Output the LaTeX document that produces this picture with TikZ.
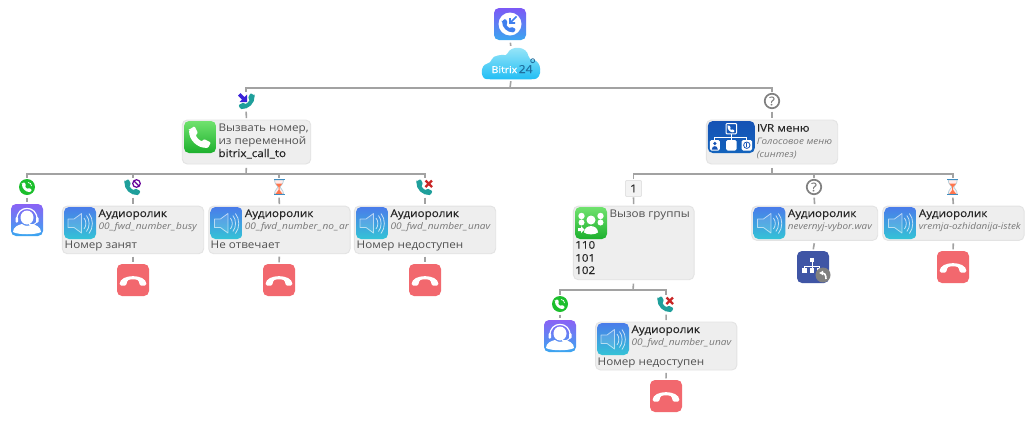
\documentclass[tikz,border=0pt]{standalone}
\usepackage{fontspec}
\setmainfont{Open Sans}[FakeStretch=1.1]
\newfontfamily\titlefont{Open Sans}[FakeStretch=1.1,FakeBold=0.25]
\usetikzlibrary{calc, arrows.meta}

\definecolor{wiregray}{HTML}{A2A2A2}
\definecolor{panelfill}{HTML}{EEEEEE}
\definecolor{paneledge}{HTML}{E3E3E3}
\definecolor{bodytext}{HTML}{505050}
\definecolor{subtext}{HTML}{777777}
\definecolor{hangred}{HTML}{F2686E}
\definecolor{teal}{HTML}{1F9F9B}
\definecolor{okgreen}{HTML}{1CBF2C}
\definecolor{speakertop}{HTML}{4A7CEA}
\definecolor{speakerlow}{HTML}{34C3D6}
\definecolor{avatartop}{HTML}{8A62F5}
\definecolor{avatarlow}{HTML}{3BA6F0}
\definecolor{greentop}{HTML}{70E26E}
\definecolor{greenlow}{HTML}{1DB02E}
\definecolor{ivrblue}{HTML}{1552B5}
\definecolor{backblue}{HTML}{3F55A5}
\definecolor{rootblue}{HTML}{3F7FEE}
\definecolor{cloudtop}{HTML}{A0E8F8}
\definecolor{cloudlow}{HTML}{22BEF5}
\definecolor{cloudnavy}{HTML}{1F6E9E}
\definecolor{arrowblue}{HTML}{3A22D8}

\tikzset{
  stub/.style={draw=wiregray, line width=1.6pt, shorten <=2.5pt, shorten >=1.5pt},
  busstub/.style={draw=wiregray, line width=1.6pt, shorten <=3.5pt},
  bar/.style={draw=wiregray, line width=1.7pt, shorten >=1pt},
  panel/.style={rectangle, draw=paneledge, line width=0.9pt, fill=panelfill, rounded corners=5pt, inner sep=0pt},
  iconbox/.style={rectangle, rounded corners=5pt, minimum size=32pt, inner sep=0pt},
  speakerbg/.style={iconbox, top color=speakertop, bottom color=speakerlow},
  hangbg/.style={iconbox, fill=hangred},
  avatarbg/.style={iconbox, top color=avatartop, bottom color=avatarlow},
  greenbg/.style={iconbox, top color=greentop, bottom color=greenlow},
  small/.style={rectangle, minimum size=16pt, inner sep=0pt},
  okdot/.style={circle, fill=okgreen, minimum size=16pt, inner sep=0pt},
  qmark/.style={circle, draw=gray, line width=1.7pt, minimum size=14.5pt, inner sep=0pt, text=gray, font=\titlefont\fontsize{12}{12}\selectfont},
  numbox/.style={rectangle, draw=paneledge, fill=panelfill!70!white, line width=0.9pt, rounded corners=1pt, minimum size=16pt, inner sep=0pt, text=black!80, font=\titlefont\fontsize{11}{11}\selectfont},
  bodytxt/.style={anchor=base west, inner sep=0pt, text=bodytext, font=\fontsize{10.6}{12}\selectfont},
  darktxt/.style={anchor=base west, inner sep=0pt, text=black!85, font=\titlefont\fontsize{10.6}{12}\selectfont},
  subtxt/.style={anchor=base west, inner sep=0pt, text=subtext, font=\itshape\fontsize{9}{11}\selectfont},
  pics/handset/.style={code={
    \fill[#1, rounded corners=1pt] (-8,-5.5) -- (-4,-8) -- (-1.5,-3) -- (-3.2,-1.5)
      .. controls (-2.5,0.5) and (-0.5,2.5) .. (1.5,3.2) -- (3,1.5) -- (8,4) -- (6,8)
      .. controls (-2,8.5) and (-8.5,2) .. cycle;
  }},
  pics/hangup/.style={code={
    \fill[white, rounded corners=1.5pt] (-13.5,5.5) .. controls (-13,-6.5) and (13,-6.5) .. (13.5,5.5)
      -- (6.5,5.5) -- (6,0.5) .. controls (2,-1) and (-2,-1) .. (-6,0.5) -- (-6.5,5.5) -- cycle;
  }},
  pics/speaker/.style={code={
    \draw[white, opacity=0.6, line width=0.8pt, fill=white, fill opacity=0.12, line join=round]
      (-12,-4) -- (-6,-4) -- (1.5,-9.5) -- (1.5,10) -- (-6,4.5) -- (-12,4.5) -- cycle;
    \draw[white, opacity=0.7, line width=0.8pt] (4,-5) .. controls (6.5,-2) and (6.5,3) .. (4,6);
    \draw[white, opacity=0.7, line width=0.8pt] (6.5,-7.5) .. controls (10,-3) and (10,4) .. (6.5,8.5);
    \draw[white, opacity=0.7, line width=0.8pt] (9,-9.5) .. controls (13.5,-4) and (13.5,5) .. (9,10.5);
  }},
  pics/avatar/.style={code={
    \fill[white] (-14,12) .. controls (-14,7) and (-9,5) .. (-5,4) .. controls (-2,6.5) and (2,6.5) .. (5,4)
      .. controls (9,5) and (14,7) .. (14,12) .. controls (9,15) and (-9,15) .. (-14,12) -- cycle;
    \fill[white] (0,-2.5) ellipse (6.5 and 7);
    \draw[white, line width=1.2pt] (-10,0) .. controls (-11,-15.5) and (11,-15.5) .. (10,0);
    \fill[white, rounded corners=1pt] (-11.5,-3) rectangle (-9,2.5);
    \fill[white, rounded corners=1pt] (11.5,-3) rectangle (9,2.5);
    \draw[white, line width=0.9pt] (10,2) .. controls (9,5) and (6,4.5) .. (2,4.5);
  }},
  pics/hourglass/.style={code={
    \draw[cyan!40!gray!50, line width=0.7pt, fill=red!8] (-4.5,-7) .. controls (-4.5,-2.5) and (-1,-1.5) .. (-1,0)
      .. controls (-1,1.5) and (-4.5,2.5) .. (-4.5,7) -- (4.5,7) .. controls (4.5,2.5) and (1,1.5) .. (1,0)
      .. controls (1,-1.5) and (4.5,-2.5) .. (4.5,-7) -- cycle;
    \fill[red!55!orange!70] (-3.5,-3.5) -- (3.5,-3.5) -- (0.5,0) -- (0.5,3) -- (3.5,7) -- (-3.5,7) -- (-0.5,3) -- (-0.5,0) -- cycle;
    \fill[blue!40!cyan!50!gray] (-5.5,-8) rectangle (5.5,-6.6);
    \fill[blue!40!cyan!50!gray] (-5.5,6.6) rectangle (5.5,8);
  }},
  pics/treemark/.style={code={
    \draw[white, line width=1pt] (0,-5) -- (0,0) (-9,4) -- (-9,0) -- (9,0) -- (9,4) (0,0) -- (0,4);
    \fill[white] (-2.5,-10) rectangle (2.5,-5);
    \fill[white] (-12,3) rectangle (-6.5,8.5);
    \fill[white] (-2.5,3) rectangle (2.5,8.5);
    \fill[white] (6.5,3) rectangle (12,8.5);
  }},
  pics/ivrmark/.style={code={
    \draw[white, line width=1pt, rounded corners=1pt] (-5.3,-13.5) rectangle (5.3,-3.2);
    \pic[scale=0.45] at (0,-8.3) {handset=white};
    \draw[white, line width=1pt] (0,-3.2) -- (0,3) (-16.5,3) -- (-16.5,0.7) -- (15.5,0.7) -- (15.5,3);
    \fill[white, rounded corners=1.5pt] (-21.5,3) rectangle (-11.5,13.5);
    \fill[white, rounded corners=1.5pt] (-5.3,3) rectangle (5.3,13.5);
    \fill[white, rounded corners=1.5pt] (10.3,3) rectangle (20.7,13.5);
    \fill[ivrblue] (-16.5,6.5) circle (1.8) (-19.5,12.5) .. controls (-19.5,8) and (-13.5,8) .. (-13.5,12.5) -- cycle;
    \draw[ivrblue, line width=0.8pt] (15.5,8.2) circle (3.2);
    \fill[ivrblue] (15,6.3) rectangle (16,10.2);
  }},
}

\newcommand{\us}{\kern0.5pt\_\kern0.5pt}
\newcommand{\fwdname}[1]{{\fontsize{9.2}{11}\selectfont 00\us fwd\us number\us #1}}
\newcommand{\audiohead}[4]{%
  \begin{scope}[shift={(#2,#3)}]
    \node[speakerbg] (#1icon) at (17.7,17) {};
    \pic at (#1icon) {speaker};
    \node[darktxt] (#1title) at (36,11) {Аудиоролик};
    \node[subtxt] (#1sub) at (36,23.7) {#4};
  \end{scope}}

\begin{document}
\begin{tikzpicture}[x=1pt, y=-1pt]
  \path[use as bounding box, fill=white] (0,0) rectangle (1034,424);

  % Entry icon and cloud
  \node[iconbox, top color=avatartop!90!blue, bottom color=avatarlow] (entry) at (510,24) {};
  \fill[white] (entry) circle (11.5);
  \pic[scale=0.85] at (509,25.5) {handset=rootblue};
  \draw[rootblue, line width=1.7pt] (516.5,16.5) -- (510,23) (510,18) -- (510,23) -- (515,23);
  \node[rectangle, minimum width=57pt, minimum height=32pt, inner sep=0pt] (cloud) at (511,63.5) {};
  \shade[top color=cloudtop, bottom color=cloudlow, rounded corners=4pt]
    (491,79.3) .. controls (480,79) and (480,65) .. (491,63) .. controls (493,55) and (503,55) .. (506,57)
    .. controls (511,45) and (527,46) .. (529,60) .. controls (542,60) and (543,79) .. (530,79.3) -- cycle;
  \node[inner sep=0pt, anchor=base west, text=white, font=\titlefont\fontsize{9.5}{10}\selectfont] (cloudname) at (491.5,73) {Bitrix};
  \node[inner sep=0pt, anchor=base west, text=cloudnavy, font=\titlefont\fontsize{11}{10}\selectfont] (cloudnum) at (518.5,73) {24};
  \draw[cloudnavy, line width=0.8pt] (532.7,60.7) circle (2);

  \coordinate (rootbus) at (510,88);
  \draw[stub] (entry.south) -- (cloud.north);
  \draw[busstub, shorten <=1.5pt] (cloud.south) -- (rootbus);

  % Left branch icon
  \node[small] (callin) at (246,101) {};
  \pic[xscale=-1] at (246.5,101) {handset=teal};
  \fill[arrowblue] (238,95.5) -- (240.5,93) -- (244.5,97) -- (247,94.5) -- (247,102) -- (239.5,102) -- (242,99.5) -- cycle;
  \node[qmark] (other) at (772,101) {?};
  \draw[bar] (rootbus) -| (callin.north);
  \draw[bar] (rootbus) -| (other.north);

  % Call box
  \node[panel, minimum width=128.5pt, minimum height=44pt] (callbox) at (246.5,142) {};
  \node[greenbg] (callicon) at (200,137) {};
  \pic[scale=1.35] at (callicon) {handset=white};
  \node[bodytxt] (callline1) at (218.3,131.7) {Вызвать номер,};
  \node[bodytxt] (callline2) at (218.3,144.3) {из переменной};
  \node[darktxt] (callline3) at (218.3,157) {bitrix\_call\_to};
  \draw[stub] (callin.south) -- (callbox.north);

  \coordinate (callbus) at (246,174);
  \draw[busstub] (callbox.south) -- (callbus);

  % Outcomes of the call
  \node[okdot] (okleft) at (27,187) {};
  \pic[scale=0.62] at (okleft) {handset=white};
  \draw[white, line width=0.7pt] (28,182.5) .. controls (30,182.5) and (31.5,184) .. (31.5,186);
  \node[small] (busy) at (133,187) {};
  \pic at (132.5,187) {handset=teal};
  \draw[violet!80!blue, line width=1.2pt, fill=white] (136.5,183.5) circle (3.8);
  \draw[violet!80!blue, line width=1.2pt] (134,181) -- (139,186);
  \node[small] (noanswer) at (279,187) {};
  \pic at (noanswer) {hourglass};
  \node[small] (fail) at (425,187) {};
  \pic at (424.5,187) {handset=teal};
  \draw[red!75!black!85, line width=2.2pt] (425.5,180.5) -- (432,187) (432,180.5) -- (425.5,187);
  \draw[bar] (callbus) -| (okleft.north);
  \draw[bar] (callbus) -| (busy.north);
  \draw[bar] (callbus) -| (noanswer.north);
  \draw[bar] (callbus) -| (fail.north);

  % Operator
  \node[avatarbg] (agentleft) at (27,220) {};
  \pic at (agentleft) {avatar};
  \draw[stub] (okleft.south) -- (agentleft.north);

  % Busy
  \node[panel, minimum width=141.4pt, minimum height=47.7pt] (busybox) at (133,229.9) {};
  \audiohead{busy}{62.3}{206}{\fwdname{busy}}
  \node[bodytxt] (busynote) at (64.5,248.7) {Номер занят};
  \node[hangbg] (hangbusy) at (133,280) {};
  \pic at (hangbusy) {hangup};
  \draw[stub] (busy.south) -- (busybox.north);
  \draw[stub] (busybox.south) -- (hangbusy.north);

  % No answer
  \node[panel, minimum width=141.4pt, minimum height=47.7pt] (noansbox) at (279.4,229.9) {};
  \audiohead{noans}{208.7}{206}{\fwdname{no\us ar}}
  \node[bodytxt] (noansnote) at (210.5,248.7) {Не отвечает};
  \node[hangbg] (hangnoans) at (279,280) {};
  \pic at (hangnoans) {hangup};
  \draw[stub] (noanswer.south) -- (noansbox.north);
  \draw[stub] (noansbox.south) -- (hangnoans.north);

  % Unavailable
  \node[panel, minimum width=141.4pt, minimum height=47.7pt] (failbox) at (425,229.9) {};
  \audiohead{fail}{354.3}{206}{\fwdname{unav}}
  \node[bodytxt] (failnote) at (356.5,248.7) {Номер недоступен};
  \node[hangbg] (hangfail) at (425,280) {};
  \pic at (hangfail) {hangup};
  \draw[stub] (fail.south) -- (failbox.north);
  \draw[stub] (failbox.south) -- (hangfail.north);

  % IVR box
  \node[panel, minimum width=131.4pt, minimum height=44pt] (ivrbox) at (772,142) {};
  \node[iconbox, minimum width=47pt, top color=ivrblue, bottom color=ivrblue!90!cyan] (ivricon) at (731.3,137) {};
  \pic at (ivricon) {ivrmark};
  \node[darktxt] (ivrtitle) at (756.7,131.7) {IVR меню};
  \node[subtxt] (ivrline1) at (756.7,144.3) {Голосовое меню};
  \node[subtxt] (ivrline2) at (756.7,157) {(синтез)};
  \draw[stub] (other.south) -- (ivrbox.north);

  \coordinate (ivrbus) at (772,174);
  \draw[busstub] (ivrbox.south) -- (ivrbus);

  % Outcomes of the menu
  \node[numbox] (digit) at (633.5,188.5) {1};
  \node[qmark] (wrong) at (814,187) {?};
  \node[small] (expired) at (952.7,187) {};
  \pic at (expired) {hourglass};
  \draw[bar] (ivrbus) -| (digit.north);
  \draw[bar] (ivrbus) -| (wrong.north);
  \draw[bar] (ivrbus) -| (expired.north);

  % Group call
  \node[panel, minimum width=120.7pt, minimum height=73.7pt] (groupbox) at (633.7,242.9) {};
  \node[greenbg] (groupicon) at (591,223) {};
  \fill[white] (591,220) circle (4.5) (581.5,216) circle (3.2) (600.5,216) circle (3.2) (581.5,222.5) circle (3) (600.5,222.5) circle (3);
  \fill[white] (584,232.5) .. controls (584,224) and (598,224) .. (598,232.5) .. controls (595,235) and (587,235) .. (584,232.5) -- cycle;
  \fill[white] (578,228) -- (581,228) -- (581,226) -- (584.5,229.5) -- (581,233) -- (581,231) -- (578,231) -- cycle;
  \node[bodytxt] (grouptitle) at (609.3,217) {Вызов группы};
  \node[darktxt] (group110) at (575,248.7) {110};
  \node[darktxt] (group101) at (575,261.7) {101};
  \node[darktxt] (group102) at (575,274) {102};
  \draw[stub, shorten <=0.5pt] (digit.south) -- (groupbox.north);

  \coordinate (groupbus) at (633,290.3);
  \draw[busstub] (groupbox.south) -- (groupbus);

  \node[okdot] (okgroup) at (560,304) {};
  \pic[scale=0.62] at (okgroup) {handset=white};
  \draw[white, line width=0.7pt] (561,299.5) .. controls (563,299.5) and (564.5,301) .. (564.5,303);
  \node[small] (failgroup) at (666,304) {};
  \pic at (665.5,304) {handset=teal};
  \draw[red!75!black!85, line width=2.2pt] (666.5,297.5) -- (673,304) (673,297.5) -- (666.5,304);
  \draw[bar] (groupbus) -| (okgroup.north);
  \draw[bar] (groupbus) -| (failgroup.north);

  \node[avatarbg] (agentgroup) at (560,336) {};
  \pic at (agentgroup) {avatar};
  \draw[stub] (okgroup.south) -- (agentgroup.north);

  \node[panel, minimum width=141.4pt, minimum height=48pt] (gfailbox) at (666.2,346) {};
  \audiohead{gfail}{595.3}{322}{\fwdname{unav}}
  \node[bodytxt] (gfailnote) at (597.5,365) {Номер недоступен};
  \node[hangbg] (hanggfail) at (666,396) {};
  \pic at (hanggfail) {hangup};
  \draw[stub] (failgroup.south) -- (gfailbox.north);
  \draw[stub] (gfailbox.south) -- (hanggfail.north);

  % Wrong digit
  \node[panel, minimum width=126pt, minimum height=34.3pt] (wrongbox) at (814.7,223.2) {};
  \audiohead{wrong}{751.7}{206}{nevernyj-vybor.wav}
  \node[iconbox, fill=backblue] (back) at (813,267) {};
  \pic[scale=0.8] at (812,266) {treemark};
  \node[circle, fill=gray, minimum size=15pt, inner sep=0pt] (backmark) at (823,275) {};
  \draw[white, line width=1.6pt, -{Latex[length=4pt,width=5pt]}] (826,279) .. controls (826,274) and (824,273) .. (819,273);
  \draw[stub] (wrong.south) -- (wrongbox.north);
  \draw[stub] (wrongbox.south) -- (back.north);

  % Timeout
  \node[panel, minimum width=141.4pt, minimum height=34.3pt] (expbox) at (953.4,223.2) {};
  \audiohead{exp}{882.7}{206}{vremja-ozhidanija-istek}
  \node[hangbg] (hangexp) at (953,267) {};
  \pic at (hangexp) {hangup};
  \draw[stub] (expired.south) -- (expbox.north);
  \draw[stub] (expbox.south) -- (hangexp.north);
\end{tikzpicture}
\end{document}
